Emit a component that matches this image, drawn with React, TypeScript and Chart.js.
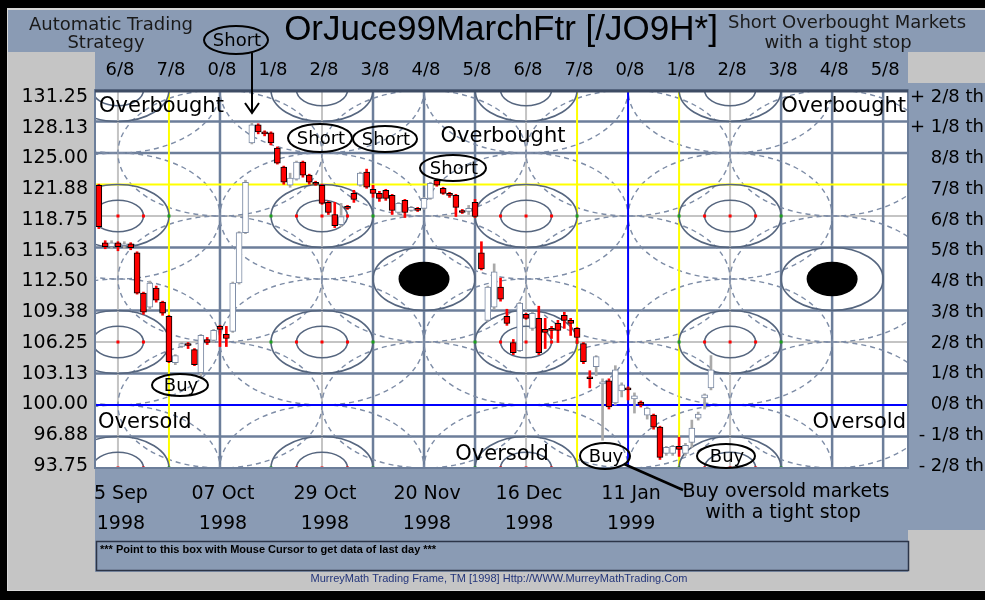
import React, { useEffect, useRef } from "react";
import { Chart, registerables } from "chart.js";

Chart.register(...registerables);

// ---------- data ----------
const priceLevels = [131.25, 128.13, 125.0, 121.88, 118.75, 115.63, 112.5, 109.38, 106.25, 103.13, 100.0, 96.88, 93.75];
const priceLabels = ["131.25", "128.13", "125.00", "121.88", "118.75", "115.63", "112.50", "109.38", "106.25", "103.13", "100.00", "96.88", "93.75"];
const octaveLabels = ["+ 2/8 th", "+ 1/8 th", "8/8 th", "7/8 th", "6/8 th", "5/8 th", "4/8 th", "3/8 th", "2/8 th", "1/8 th", "0/8 th", "- 1/8 th", "- 2/8 th"];
const rowStyles = ["frame", "slate", "slate", "yellow", "gray", "slate", "none", "slate", "gray", "slate", "blue", "slate", "frame"];

const timeLabels = ["6/8", "7/8", "0/8", "1/8", "2/8", "3/8", "4/8", "5/8", "6/8", "7/8", "0/8", "1/8", "2/8", "3/8", "4/8", "5/8"];
const timeDays = [3, 11, 19, 27, 35, 43, 51, 59, 67, 75, 83, 91, 99, 107, 115, 123];
const colStyles = ["gray", "yellow", "slate", "none", "gray", "slate", "slate", "slate", "gray", "yellow", "blue", "yellow", "gray", "slate", "slate", "slate"];

const dateLabels = ["5 Sep", "07 Oct", "29 Oct", "20 Nov", "16 Dec", "11 Jan"];
const yearLabels = ["1998", "1998", "1998", "1998", "1998", "1999"];
const dateDays = [3, 19, 35, 51, 67, 83];

const opens = [121.8, 116.1, 115.7, 116.1, 115.8, 116.0, 115.1, 111.1, 109.7, 111.6, 110.2, 108.8, 104.2, 105.8, 106.1, 105.5, 103.2, 106.5, 106.4, 107.8, 107.0, 107.3, 112.1, 117.1, 126.0, 127.8, 127.1, 127.0, 125.5, 123.6, 121.8, 122.4, 124.1, 122.8, 122.1, 121.8, 120.1, 118.9, 117.9, 119.7, 121.0, 121.8, 123.1, 121.4, 121.0, 121.3, 120.8, 119.1, 120.3, 119.3, 119.5, 119.5, 120.5, 122.3, 121.5, 121.0, 120.8, 119.3, 119.2, 120.1, 115.1, 108.4, 109.7, 111.7, 108.8, 106.2, 105.4, 109.0, 107.6, 108.6, 107.5, 107.6, 108.1, 108.9, 108.4, 107.6, 106.1, 102.8, 103.8, 102.1, 102.4, 100.2, 101.4, 101.7, 100.6, 100.3, 99.0, 99.0, 97.8, 95.2, 95.2, 95.9, 95.2, 96.3, 98.7, 100.7, 101.7];
const highs = [121.9, 116.3, 116.3, 116.2, 116.2, 116.1, 115.2, 111.2, 112.3, 111.8, 110.3, 108.9, 105.0, 106.2, 106.2, 105.6, 107.0, 106.7, 107.5, 107.9, 107.8, 112.2, 117.2, 122.3, 128.0, 127.9, 127.2, 127.1, 125.6, 123.7, 123.0, 124.2, 124.2, 122.9, 122.2, 121.9, 120.2, 120.1, 120.0, 119.8, 121.3, 123.1, 123.4, 121.8, 121.2, 121.4, 120.9, 120.1, 120.4, 119.7, 119.6, 120.6, 122.1, 122.4, 121.6, 121.1, 120.9, 119.4, 119.8, 120.4, 116.2, 111.8, 114.0, 112.6, 109.5, 106.5, 110.2, 109.1, 109.2, 109.8, 108.6, 107.8, 108.4, 109.2, 108.6, 107.7, 106.2, 103.4, 104.9, 102.6, 102.6, 103.9, 102.2, 101.8, 101.2, 100.4, 99.8, 99.1, 97.9, 95.9, 96.0, 96.8, 96.2, 98.5, 99.3, 101.1, 104.9];
const lows = [117.5, 115.5, 115.5, 115.3, 115.5, 115.4, 111.0, 109.0, 109.5, 110.2, 108.9, 104.2, 104.0, 105.7, 105.6, 103.9, 102.7, 106.0, 106.2, 105.8, 105.8, 107.2, 112.0, 117.0, 125.9, 126.9, 126.7, 125.8, 123.9, 121.9, 121.6, 122.3, 122.6, 121.9, 121.8, 119.9, 118.9, 117.6, 117.7, 119.4, 120.1, 121.7, 121.5, 120.6, 120.2, 120.3, 118.9, 119.0, 118.6, 119.2, 119.2, 119.4, 120.4, 121.7, 120.9, 120.6, 118.7, 119.0, 118.9, 118.6, 113.4, 108.3, 109.5, 110.3, 107.9, 105.0, 105.3, 108.5, 107.4, 105.0, 105.6, 106.6, 106.2, 107.6, 106.9, 106.1, 104.1, 101.7, 102.9, 96.5, 99.6, 100.0, 100.8, 100.5, 99.2, 99.8, 98.6, 97.6, 94.6, 95.0, 95.0, 94.9, 95.0, 95.8, 98.5, 99.6, 101.5];
const closes = [117.7, 115.7, 116.1, 115.7, 116.0, 115.6, 111.1, 109.2, 112.1, 110.4, 109.1, 104.3, 104.9, 106.1, 105.9, 104.0, 106.9, 106.2, 107.4, 107.5, 106.6, 112.1, 117.1, 122.1, 127.8, 127.1, 126.9, 126.0, 124.0, 122.1, 122.5, 124.1, 122.8, 122.1, 121.9, 120.0, 119.1, 117.8, 118.7, 119.5, 120.4, 123.0, 121.6, 121.0, 120.5, 120.5, 119.3, 120.0, 119.1, 119.6, 119.3, 120.5, 122.0, 121.8, 121.0, 120.8, 119.6, 119.1, 119.5, 118.7, 113.5, 111.7, 113.2, 110.5, 108.1, 105.2, 110.1, 108.6, 109.1, 105.2, 107.2, 107.4, 107.4, 108.4, 108.1, 106.7, 104.3, 102.6, 104.8, 102.3, 99.8, 103.5, 102.0, 101.5, 100.9, 100.0, 99.7, 97.8, 94.8, 95.8, 95.9, 95.6, 96.0, 97.7, 99.1, 101.0, 103.5];

// frame geometry (Murrey Math circles), in day / price units
const daysPerCol = 8;
const priceStep = 3.125;
const circleDays = [3, 35, 67, 99];
const circlePrices = [131.25, 118.75, 106.25, 93.75];
const ringDays = [19, 51, 83, 115];
const ringPrices = [125, 112.5, 100];
const blackDays = [51, 115];
const blackPrice = 112.5;

// ---------- styles ----------
const SLATE_BG = "#8a9bb4";
const GRAY_BG = "#c5c5c5";
const LINE_COL: Record<string, string> = { slate: "#6c7e9a", gray: "#c4c4c4", yellow: "#ffff00", blue: "#0000ff" };
const LINE_W: Record<string, number> = { slate: 2.5, gray: 2, yellow: 2, blue: 2 };
const DV = "'DejaVu Sans'";
const LS = "'Liberation Sans'";

function txt(ctx: CanvasRenderingContext2D, s: string, x: number, y: number, font: string, align: CanvasTextAlign = "center", color = "#000", maxW?: number) {
  ctx.font = font;
  ctx.textAlign = align;
  ctx.textBaseline = "middle";
  ctx.fillStyle = color;
  if (maxW) ctx.fillText(s, x, y, maxW);
  else ctx.fillText(s, x, y);
}

function ell(ctx: CanvasRenderingContext2D, cx: number, cy: number, rx: number, ry: number) {
  ctx.beginPath();
  ctx.ellipse(cx, cy, rx, ry, 0, 0, Math.PI * 2);
}

const framePlugin = {
  id: "mmframe",
  beforeDraw(chart: any) {
    const ctx: CanvasRenderingContext2D = chart.ctx;
    const ca = chart.chartArea;
    const xs = chart.scales.x;
    const ys = chart.scales.y;
    const W = chart.width, H = chart.height;
    ctx.save();
    ctx.fillStyle = "#000";
    ctx.fillRect(0, 0, W, H);
    ctx.fillStyle = "#d8d8d8";
    ctx.fillRect(7, 8, W - 7, 583);
    ctx.fillStyle = GRAY_BG;
    ctx.fillRect(8, 10, W - 8, 580);
    // slate panels
    ctx.fillStyle = SLATE_BG;
    ctx.fillRect(8, 10, W - 8, 42);
    ctx.fillRect(ca.left, 52, ca.right - ca.left, ca.top - 52);
    ctx.fillRect(ca.right, 83, W - ca.right, 447);
    ctx.fillRect(ca.left, ca.bottom, ca.right - ca.left, 572 - ca.bottom);
    // plot background
    ctx.fillStyle = "#ffffff";
    ctx.fillRect(ca.left, ca.top, ca.right - ca.left, ca.bottom - ca.top);

    // titles
    txt(ctx, "Automatic Trading", 111, 25, `18px ${DV}`, "center", "#1a1a1a");
    txt(ctx, "Strategy", 106, 43, `18px ${DV}`, "center", "#1a1a1a");
    txt(ctx, "OrJuce99MarchFtr [/JO9H*]", 501, 30, `35px ${LS}`, "center", "#000");
    txt(ctx, "Short Overbought Markets", 728, 23, `18px ${DV}`, "left", "#1a1a1a");
    txt(ctx, "with a tight stop", 838, 43, `18px ${DV}`, "center", "#1a1a1a");

    // top octave labels for time columns
    timeLabels.forEach((s, k) => {
      txt(ctx, s, xs.getPixelForValue(timeDays[k]) + 2, 70, `18px ${DV}`, "center", "#000");
    });
    // price labels (left) and octave labels (right)
    const n = priceLevels.length;
    priceLevels.forEach((p, k) => {
      const y = ys.getPixelForValue(p) + 7 - (9 * k) / (n - 1);
      txt(ctx, priceLabels[k], 88, y, `19px ${DV}`, "right", "#000");
      txt(ctx, octaveLabels[k], 984, y, `18px ${DV}`, "right", "#000");
    });
    // date labels
    dateLabels.forEach((s, k) => {
      const x = xs.getPixelForValue(dateDays[k]) + 3;
      txt(ctx, s, x, 494, `19px ${DV}`, "center", "#000");
      txt(ctx, yearLabels[k], x, 524, `19px ${DV}`, "center", "#000");
    });
    // info box
    ctx.fillStyle = SLATE_BG;
    ctx.fillRect(96, 541, 813, 30);
    ctx.strokeStyle = "#2c3548";
    ctx.lineWidth = 1.5;
    ctx.strokeRect(96.5, 541.5, 812, 29);
    txt(ctx, "*** Point to this box with Mouse Cursor to get data of last day ***", 100, 550, `bold 11px ${LS}`, "left", "#000", 410);
    txt(ctx, "MurreyMath Trading Frame, TM [1998] Http://WWW.MurreyMathTrading.Com", 499, 579, `11px ${LS}`, "center", "#23357a", 402);
    ctx.restore();
  },
  beforeDatasetsDraw(chart: any) {
    const ctx: CanvasRenderingContext2D = chart.ctx;
    const ca = chart.chartArea;
    const xs = chart.scales.x;
    const ys = chart.scales.y;
    const px = (d: number) => xs.getPixelForValue(d);
    const py = (p: number) => ys.getPixelForValue(p);
    const colW = px(daysPerCol) - px(0);
    const rowH = py(100) - py(100 + priceStep);
    ctx.save();
    ctx.beginPath();
    ctx.rect(ca.left, ca.top, ca.right - ca.left, ca.bottom - ca.top);
    ctx.clip();

    const drawLines = (which: string[]) => {
      priceLevels.forEach((p, k) => {
        const st = rowStyles[k];
        if (!which.includes(st)) return;
        ctx.strokeStyle = LINE_COL[st];
        ctx.lineWidth = LINE_W[st];
        ctx.beginPath();
        ctx.moveTo(ca.left, py(p));
        ctx.lineTo(ca.right, py(p));
        ctx.stroke();
      });
      timeDays.forEach((d, k) => {
        const st = colStyles[k];
        if (!which.includes(st)) return;
        ctx.strokeStyle = LINE_COL[st];
        ctx.lineWidth = LINE_W[st];
        ctx.beginPath();
        ctx.moveTo(px(d), ca.top);
        ctx.lineTo(px(d), ca.bottom);
        ctx.stroke();
      });
    };
    drawLines(["gray", "slate"]);

    // dashed circles
    ctx.setLineDash([5, 4]);
    ctx.strokeStyle = "#7d8ca6";
    ctx.lineWidth = 1.4;
    circleDays.forEach((d) => circlePrices.forEach((p) => { ell(ctx, px(d), py(p), 2 * colW, 2 * rowH); ctx.stroke(); }));
    ringDays.forEach((d) => ringPrices.forEach((p) => { ell(ctx, px(d), py(p), 2 * colW, 2 * rowH); ctx.stroke(); }));
    ctx.setLineDash([]);

    drawLines(["yellow", "blue"]);

    // solid circles
    ctx.strokeStyle = "#56667f";
    ctx.lineWidth = 1.6;
    circleDays.forEach((d) => circlePrices.forEach((p) => {
      ell(ctx, px(d), py(p), colW, rowH); ctx.stroke();
      ell(ctx, px(d), py(p), colW / 2, rowH / 2); ctx.stroke();
    }));
    // black targets
    blackDays.forEach((d) => {
      ell(ctx, px(d), py(blackPrice), colW, rowH); ctx.stroke();
      ell(ctx, px(d), py(blackPrice), colW / 2, rowH * 0.55);
      ctx.fillStyle = "#000";
      ctx.fill();
    });
    // small markers
    circleDays.forEach((d) => circlePrices.forEach((p) => {
      const cx = px(d), cy = py(p);
      ctx.fillStyle = "#ff0000";
      [0, -colW / 2, colW / 2].forEach((dx) => ctx.fillRect(cx + dx - 1.5, cy - 1.5, 3, 3));
      ctx.fillStyle = "#1aa01a";
      [-colW, colW].forEach((dx) => ctx.fillRect(cx + dx - 1.5, cy - 1.5, 3, 3));
    }));
    ctx.restore();
  },
  afterDatasetsDraw(chart: any) {
    const ctx: CanvasRenderingContext2D = chart.ctx;
    const ca = chart.chartArea;
    ctx.save();
    // plot frame
    ctx.strokeStyle = "#6c7e9a";
    ctx.lineWidth = 2;
    ctx.strokeRect(ca.left, ca.top, ca.right - ca.left, ca.bottom - ca.top);
    ctx.strokeStyle = "#3e4c64";
    ctx.lineWidth = 3;
    ctx.beginPath();
    ctx.moveTo(ca.left, ca.top + 1);
    ctx.lineTo(ca.right, ca.top + 1);
    ctx.stroke();

    // text annotations
    const big = `21px ${DV}`;
    txt(ctx, "Overbought", 99, 107, big, "left");
    txt(ctx, "Overbought", 906, 107, big, "right");
    txt(ctx, "Overbought", 503, 137, big, "center");
    txt(ctx, "Oversold", 98, 423, big, "left");
    txt(ctx, "Oversold", 906, 423, big, "right");
    txt(ctx, "Oversold", 502, 455, big, "center");

    const tag = (s: string, cx: number, cy: number, rx: number, ry: number) => {
      ctx.strokeStyle = "#000";
      ctx.lineWidth = 2;
      ell(ctx, cx, cy, rx, ry);
      ctx.stroke();
      txt(ctx, s, cx + 1, cy + 1, `18px ${DV}`, "center", "#000");
    };
    tag("Short", 236, 40, 32, 14);
    tag("Short", 320, 138, 32, 14);
    tag("Short", 385, 139, 32, 13);
    tag("Short", 453, 168, 33, 13);
    tag("Buy", 180, 385, 28, 11);
    tag("Buy", 605, 456, 25, 13);
    tag("Buy", 726, 456, 29, 12);

    // arrow from top Short
    ctx.strokeStyle = "#000";
    ctx.lineWidth = 2;
    ctx.beginPath();
    ctx.moveTo(252, 53);
    ctx.lineTo(252, 113);
    ctx.moveTo(245, 103);
    ctx.lineTo(252, 113);
    ctx.lineTo(259, 103);
    ctx.stroke();
    // pointer from Buy to note
    ctx.lineWidth = 2.5;
    ctx.beginPath();
    ctx.moveTo(624, 464);
    ctx.lineTo(683, 490);
    ctx.stroke();
    txt(ctx, "Buy oversold markets", 786, 492, `19px ${DV}`, "center", "#000");
    txt(ctx, "with a tight stop", 783, 513, `19px ${DV}`, "center", "#000");
    ctx.restore();
  },
};

export default function App() {
  const ref = useRef<HTMLCanvasElement>(null);
  useEffect(() => {
    const canvas = ref.current;
    if (!canvas) return;
    const idx = opens.map((_, i) => i);
    const up = (i: number) => closes[i] >= opens[i];
    const chart = new Chart(canvas, {
      type: "bar",
      data: {
        datasets: [
          {
            label: "body",
            data: idx.map((i) => ({ x: i, y: [opens[i], closes[i]] })) as any,
            backgroundColor: idx.map((i) => (up(i) ? "#ffffff" : "#ff0000")),
            borderColor: idx.map((i) => (up(i) ? "#7a89a3" : "#000000")),
            borderWidth: 1,
            borderSkipped: false,
            barThickness: 6,
            minBarLength: 2,
            grouped: false,
            order: 1,
          } as any,
          {
            label: "wick",
            data: idx.map((i) => ({ x: i, y: [lows[i], highs[i]] })) as any,
            backgroundColor: idx.map((i) => (up(i) ? "#a9a9a9" : "#ff0000")),
            borderWidth: 0,
            barThickness: 2,
            grouped: false,
            order: 2,
          } as any,
        ],
      },
      options: {
        responsive: false,
        animation: false,
        events: [],
        layout: { padding: { left: 95, right: 77, top: 90, bottom: 132 } },
        scales: {
          x: { type: "linear", min: -0.6, max: 126.9, offset: false, display: false },
          y: { min: 93.75, max: 131.25, display: false },
        },
        plugins: { legend: { display: false }, tooltip: { enabled: false } },
      } as any,
      plugins: [framePlugin as any],
    });
    return () => chart.destroy();
  }, []);
  return (
    <div style={{ position: "absolute", left: 0, top: 0, width: 985, height: 600 }}>
      <canvas ref={ref} width={985} height={600} style={{ display: "block" }} />
    </div>
  );
}
